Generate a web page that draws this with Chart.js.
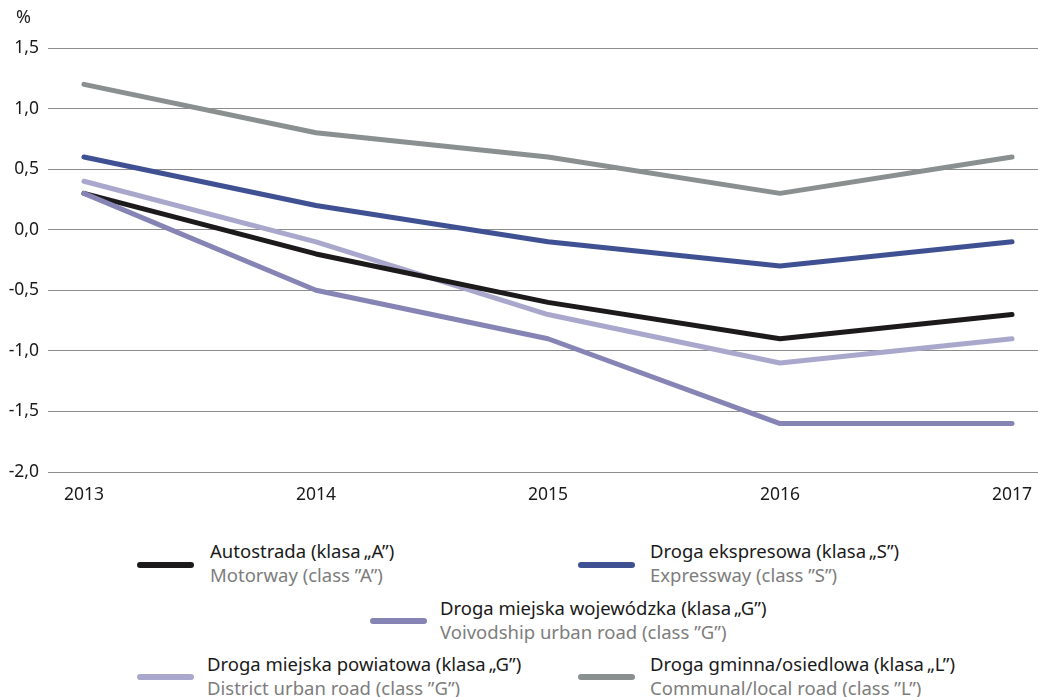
<!DOCTYPE html>
<html><head><meta charset="utf-8">
<script src="https://cdn.jsdelivr.net/npm/chart.js@4/dist/chart.umd.min.js"></script>
<style>
html,body{margin:0;padding:0;background:#fff;}
#wrap{position:relative;width:1038px;height:697px;font-family:"Noto Sans",sans-serif;}
#c{position:absolute;left:0;top:0;}
.pct{position:absolute;left:16px;top:4px;font-size:18px;color:#222;}
.sw{position:absolute;height:6px;border-radius:3px;}
.t1{position:absolute;font-size:18.5px;color:#1a1a1a;white-space:nowrap;line-height:24px;}
.t2{position:absolute;font-size:18.5px;color:#7d7d7d;white-space:nowrap;line-height:24px;}
</style></head>
<body><div id="wrap"><canvas id="c" width="1038" height="520"></canvas><div class="pct">%</div><div id="legend"></div></div>
<script>
const years = [2013, 2014, 2015, 2016, 2017];
const yTicks = [-2.0, -1.5, -1.0, -0.5, 0.0, 0.5, 1.0, 1.5];
const motorway = [0.3, -0.2, -0.6, -0.9, -0.7];
const expressway = [0.6, 0.2, -0.1, -0.3, -0.1];
const voivodship = [0.3, -0.5, -0.9, -1.6, -1.6];
const district = [0.4, -0.1, -0.7, -1.1, -0.9];
const communal = [1.2, 0.8, 0.6, 0.3, 0.6];
const labelsPL = ['Autostrada (klasa\u2009\u201EA\u201D)', 'Droga ekspresowa (klasa\u2009\u201ES\u201D)', 'Droga miejska wojew\u00F3dzka (klasa\u2009\u201EG\u201D)', 'Droga miejska powiatowa (klasa\u2009\u201EG\u201D)', 'Droga gminna/osiedlowa (klasa\u2009\u201EL\u201D)'];
const labelsEN = ['Motorway (class \u201DA\u201D)', 'Expressway (class \u201DS\u201D)', 'Voivodship urban road (class \u201DG\u201D)', 'District urban road (class \u201DG\u201D)', 'Communal/local road (class \u201DL\u201D)'];
const colors = ['#1c1a1a', '#3f5192', '#8584b4', '#a9a8cc', '#8a8f8f'];
const series = [motorway, expressway, voivodship, district, communal];

const datasets = series.map((s, i) => ({
  label: labelsPL[i],
  data: s.map((v, j) => ({x: years[j], y: v})),
  borderColor: colors[i],
  backgroundColor: colors[i],
  borderWidth: 5,
  borderCapStyle: 'round',
  borderJoinStyle: 'round',
  pointRadius: 0,
  tension: 0,
  order: [3, 1, 2, 4, 0][i]
}));

new Chart(document.getElementById('c'), {
  type: 'line',
  data: {datasets},
  options: {
    responsive: false,
    animation: false,
    layout: {padding: {top: 48, left: 0, right: 0, bottom: 0}},
    plugins: {legend: {display: false}, tooltip: {enabled: false}},
    scales: {
      x: {
        type: 'linear',
        min: 2012.845, max: 2017.112,
        grid: {display: false, drawTicks: false},
        border: {display: false},
        afterBuildTicks: (sc) => { sc.ticks = years.map(v => ({value: v})); },
        afterFit: (sc) => { sc.height = 48; sc.paddingLeft = 0; sc.paddingRight = 0; },
        ticks: {padding: 13, color: '#1a1a1a', font: {family: 'Noto Sans', size: 17.5}, callback: v => String(v), maxRotation: 0, autoSkip: false}
      },
      y: {
        min: -2, max: 1.5,
        afterBuildTicks: (sc) => { sc.ticks = yTicks.map(v => ({value: v})); },
        afterFit: (sc) => { sc.width = 48; },
        grid: {color: '#8c8c8c', lineWidth: 1, drawTicks: false},
        border: {display: false},
        ticks: {padding: 9, color: '#1a1a1a', font: {family: 'Noto Sans', size: 17.5}, callback: v => v.toFixed(1).replace('.', ',')}
      }
    }
  }
});

const pos = [
  {sx: 137, sy: 562, tx: 210, ty: 539},
  {sx: 578, sy: 562, tx: 650, ty: 539},
  {sx: 370, sy: 618, tx: 440, ty: 596},
  {sx: 137, sy: 674, tx: 207, ty: 652},
  {sx: 578, sy: 674, tx: 650, ty: 652}
];
const lg = document.getElementById('legend');
pos.forEach((p, i) => {
  const sw = document.createElement('div');
  sw.className = 'sw';
  sw.style.left = p.sx + 'px'; sw.style.top = p.sy + 'px'; sw.style.width = '57px'; sw.style.background = colors[i];
  lg.appendChild(sw);
  const a = document.createElement('div'); a.className = 't1'; a.textContent = labelsPL[i];
  a.style.left = p.tx + 'px'; a.style.top = p.ty + 'px'; lg.appendChild(a);
  const b = document.createElement('div'); b.className = 't2'; b.textContent = labelsEN[i];
  b.style.left = p.tx + 'px'; b.style.top = (p.ty + 24) + 'px'; lg.appendChild(b);
});
</script>
</body></html>
